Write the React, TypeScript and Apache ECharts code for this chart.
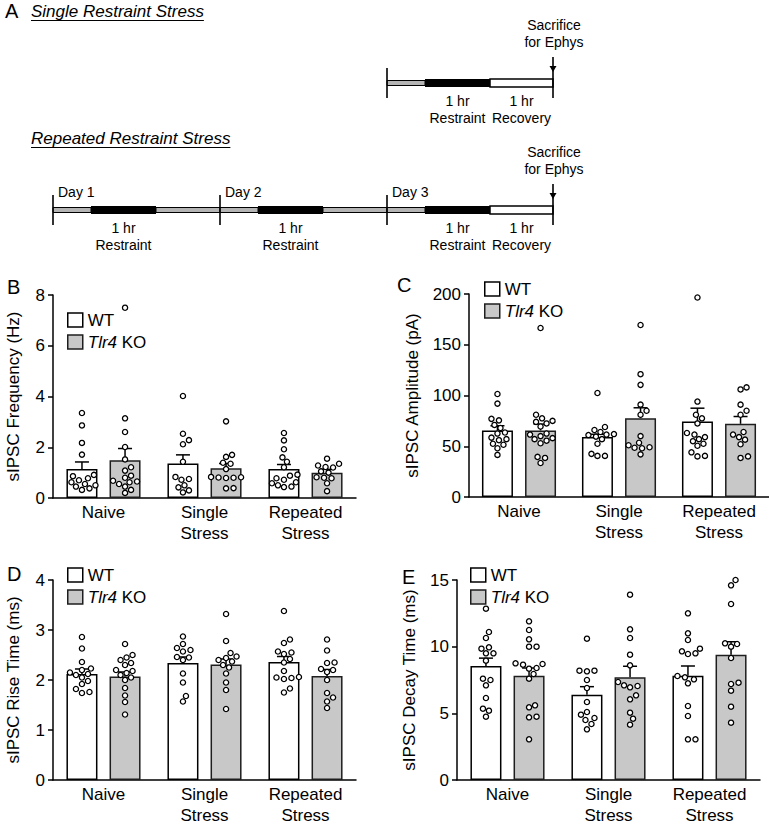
import React, { useEffect, useRef } from 'react';
import * as echarts from 'echarts';

const FONT = "'Liberation Sans', Arial, Helvetica, sans-serif";

const categories = ['Naive', 'Single\nStress', 'Repeated\nStress'];
const legendNames = ['WT', 'Tlr4 KO'];
const repeatedDays = ['Day 1', 'Day 2', 'Day 3'];

// Panel B: sIPSC frequency (Hz)
const freqMeanWT = [1.14, 1.36, 1.14];
const freqSemWT = [0.28, 0.34, 0.18];
const freqMeanKO = [1.49, 1.17, 1.0];
const freqSemKO = [0.46, 0.19, 0.13];
const freqWtNaive = [3.35, 2.86, 2.17, 1.71, 0.91, 0.86, 0.78, 0.7, 0.62, 0.55, 0.5, 0.45, 0.38, 0.32];
const freqWtSingle = [4.02, 2.53, 2.28, 2.12, 1.43, 0.83, 0.75, 0.72, 0.5, 0.42, 0.3, 0.22];
const freqWtRepeated = [2.56, 2.27, 1.92, 1.6, 1.43, 1.21, 0.92, 0.88, 0.78, 0.72, 0.62, 0.58, 0.5, 0.45, 0.43];
const freqKoNaive = [7.5, 3.14, 2.6, 2.01, 1.52, 1.21, 1.08, 0.88, 0.8, 0.68, 0.65, 0.62, 0.55, 0.45, 0.32, 0.2];
const freqKoSingle = [3.02, 1.7, 1.62, 1.39, 1.35, 1.14, 0.83, 0.82, 0.81, 0.8, 0.79, 0.39, 0.38];
const freqKoRepeated = [1.55, 1.35, 1.28, 1.22, 1.2, 1.05, 1.0, 0.82, 0.8, 0.78, 0.58, 0.27];

// Panel C: sIPSC amplitude (pA)
const ampMeanWT = [65.6, 59.0, 74.4];
const ampSemWT = [4.6, 2.8, 13.1];
const ampMeanKO = [65.6, 77.7, 72.1];
const ampSemKO = [6.2, 10.2, 7.2];
const ampWtNaive = [101.5, 92, 77, 75.5, 71, 68, 63.5, 62.5, 58.5, 57, 56, 52.5, 51.5, 48, 41.5];
const ampWtSingle = [102.5, 69, 66, 64, 62, 61.5, 61, 59.5, 57, 52.5, 42.5, 40.5, 40.5];
const ampWtRepeated = [196.5, 94, 81, 77.5, 72.5, 63, 61.5, 59, 57, 55, 52.5, 50.5, 44, 40.5, 40];
const ampKoNaive = [166.5, 81, 77.5, 75, 74, 72.5, 69.5, 62.5, 61.5, 60, 58, 57, 55.5, 53, 39.5, 38.5, 33.5];
const ampKoSingle = [169.5, 121, 110.5, 91, 85, 81, 60, 53.5, 51, 49, 48.5, 48, 42];
const ampKoRepeated = [108, 106, 91, 85, 81, 64, 61.5, 59, 56.5, 52, 40, 38.5];

// Panel D: sIPSC rise time (ms)
const riseMeanWT = [2.12, 2.34, 2.36];
const riseSemWT = [0.1, 0.12, 0.11];
const riseMeanKO = [2.07, 2.31, 2.08];
const riseSemKO = [0.09, 0.11, 0.13];
const riseWtNaive = [2.86, 2.63, 2.36, 2.23, 2.2, 2.15, 2.12, 2.1, 2.05, 1.98, 1.92, 1.82, 1.76, 1.74];
const riseWtSingle = [2.87, 2.72, 2.64, 2.6, 2.57, 2.46, 2.45, 2.4, 2.13, 1.95, 1.68, 1.57];
const riseWtRepeated = [3.38, 2.81, 2.74, 2.57, 2.55, 2.52, 2.42, 2.35, 2.18, 2.06, 2.05, 2.04, 2.02, 1.83, 1.75];
const riseKoNaive = [2.72, 2.5, 2.45, 2.4, 2.34, 2.3, 2.2, 2.18, 2.14, 2.1, 2.05, 2.0, 1.84, 1.69, 1.56, 1.31];
const riseKoSingle = [3.32, 2.78, 2.54, 2.47, 2.44, 2.4, 2.37, 2.3, 2.25, 2.13, 1.95, 1.8, 1.42];
const riseKoRepeated = [2.81, 2.59, 2.35, 2.34, 2.22, 2.2, 2.16, 2.0, 1.74, 1.65, 1.57, 1.44];

// Panel E: sIPSC decay time (ms)
const decayMeanWT = [8.55, 6.4, 7.82];
const decaySemWT = [0.59, 0.6, 0.73];
const decayMeanKO = [7.82, 7.7, 9.39];
const decaySemKO = [0.58, 0.83, 0.98];
const decayWtNaive = [12.85, 11.1, 10.65, 9.95, 9.85, 9.5, 9.5, 8.95, 7.6, 7.5, 7.1, 6.15, 5.35, 5.2, 4.75];
const decayWtSingle = [10.6, 8.2, 8.2, 8.15, 7.5, 6.9, 5.85, 5.1, 4.9, 4.65, 4.5, 4.2, 3.8];
const decayWtRepeated = [12.5, 11.0, 10.5, 9.85, 9.65, 9.5, 9.45, 7.8, 7.7, 7.55, 7.25, 5.55, 4.8, 3.05, 3.05];
const decayKoNaive = [11.9, 11.25, 10.55, 10.0, 10.0, 8.75, 8.7, 8.65, 8.4, 8.35, 7.95, 7.6, 5.6, 5.45, 4.75, 4.7, 3.05];
const decayKoSingle = [13.9, 11.3, 10.65, 9.4, 8.6, 7.35, 7.1, 7.05, 6.95, 6.35, 6.05, 5.05, 4.6, 4.15];
const decayKoRepeated = [15.0, 14.6, 13.2, 10.25, 10.2, 10.0, 9.15, 7.3, 7.2, 6.7, 5.5, 4.3];

// ---- styling / layout ----
const BAR_W = 31;
const BAR_GAP = 0.39;
const OFF = (BAR_W * (1 + BAR_GAP)) / 2;
const WT_STYLE = { color: '#ffffff', borderColor: '#000000', borderWidth: 1.5 };
const KO_STYLE = { color: '#c8c8c8', borderColor: '#1e1e1e', borderWidth: 1.5 };

const panels = [
  {
    letter: 'B', lx: 7, ly: 287,
    grid: { left: 53, top: 295, width: 303, height: 203 },
    max: 8, interval: 2, name: 'sIPSC Frequency (Hz)', nameGap: 31,
    legend: { left: 67, top: 310 },
    meanWT: freqMeanWT, semWT: freqSemWT, meanKO: freqMeanKO, semKO: freqSemKO,
    ptsWT: [freqWtNaive, freqWtSingle, freqWtRepeated],
    ptsKO: [freqKoNaive, freqKoSingle, freqKoRepeated],
  },
  {
    letter: 'C', lx: 397, ly: 285,
    grid: { left: 469, top: 294, width: 303, height: 203 },
    max: 200, interval: 50, name: 'sIPSC Amplitude (pA)', nameGap: 48,
    legend: { left: 484, top: 279 },
    meanWT: ampMeanWT, semWT: ampSemWT, meanKO: ampMeanKO, semKO: ampSemKO,
    ptsWT: [ampWtNaive, ampWtSingle, ampWtRepeated],
    ptsKO: [ampKoNaive, ampKoSingle, ampKoRepeated],
  },
  {
    letter: 'D', lx: 7, ly: 574,
    grid: { left: 53, top: 580, width: 303, height: 204 },
    max: 4, interval: 1, name: 'sIPSC Rise Time (ms)', nameGap: 31,
    legend: { left: 67, top: 565 },
    meanWT: riseMeanWT, semWT: riseSemWT, meanKO: riseMeanKO, semKO: riseSemKO,
    ptsWT: [riseWtNaive, riseWtSingle, riseWtRepeated],
    ptsKO: [riseKoNaive, riseKoSingle, riseKoRepeated],
  },
  {
    letter: 'E', lx: 402, ly: 577,
    grid: { left: 457, top: 580, width: 303, height: 204 },
    max: 15, interval: 5, name: 'sIPSC Decay Time (ms)', nameGap: 39,
    legend: { left: 470, top: 565 },
    meanWT: decayMeanWT, semWT: decaySemWT, meanKO: decayMeanKO, semKO: decaySemKO,
    ptsWT: [decayWtNaive, decayWtSingle, decayWtRepeated],
    ptsKO: [decayKoNaive, decayKoSingle, decayKoRepeated],
  },
];

function errRender(off: number) {
  return (params: any, api: any) => {
    const cat = api.value(0);
    const mean = api.value(1);
    const sem = api.value(2);
    const base = api.coord([cat, mean]);
    const top = api.coord([cat, mean + sem]);
    const x = base[0] + off;
    const st = { stroke: '#000', lineWidth: 1.5 };
    return {
      type: 'group',
      children: [
        { type: 'line', shape: { x1: x, y1: base[1], x2: x, y2: top[1] }, style: st },
        { type: 'line', shape: { x1: x - 7, y1: top[1], x2: x + 7, y2: top[1] }, style: st },
      ],
    };
  };
}

function dotsRender(pts: number[][], off: number) {
  return (params: any, api: any) => {
    const j = params.dataIndex;
    const cx = api.coord([j, 0])[0] + off;
    const ys = pts[j].map((v) => api.coord([j, v])[1]).sort((a: number, b: number) => b - a);
    const placed: { x: number; y: number }[] = [];
    const D = 6.2;
    const children: any[] = [];
    for (const y of ys) {
      let chosen = 0;
      for (let k = 0; k < 60; k++) {
        const o = (k % 2 === 1 ? 1 : -1) * Math.ceil(k / 2) * 1.5;
        const ok = placed.every((p) => (p.x - o) ** 2 + (p.y - y) ** 2 >= D * D);
        if (ok) {
          chosen = o;
          break;
        }
      }
      placed.push({ x: chosen, y });
      children.push({
        type: 'circle',
        shape: { cx: cx + chosen, cy: y, r: 2.6 },
        style: { fill: '#fff', stroke: '#000', lineWidth: 1.3 },
      });
    }
    return { type: 'group', children };
  };
}

function measure(text: string, font: string) {
  const c = document.createElement('canvas').getContext('2d');
  if (!c) return text.length * 9;
  c.font = font;
  return c.measureText(text).width;
}

// timeline layout
const TL_RIGHT = 553;
const DAY_W = 167;
const REST_OFF = 38;
const REST_W = 65;
const REC_W = 63;

function txt(x: number, y: number, text: string, size = 14, align = 'center', extra: any = {}) {
  return {
    type: 'text',
    x,
    y,
    silent: true,
    style: { text, fontSize: size, fontFamily: FONT, fill: '#000', align, verticalAlign: 'middle', ...extra },
  };
}

function timeline(yc: number, days: string[]) {
  const n = days.length;
  const lastStart = TL_RIGHT - REC_W - REST_W - REST_OFF;
  const starts = days.map((_, i) => lastStart - (n - 1 - i) * DAY_W);
  const bands: any[] = [];
  const bars: any[] = [];
  const ticks: any[] = [];
  const texts: any[] = [];
  const band = (x0: number, x1: number) => ({
    type: 'rect',
    shape: { x: x0, y: yc - 2.5, width: x1 - x0, height: 5 },
    style: { fill: '#b4b4b4', stroke: '#000', lineWidth: 1 },
  });
  const tick = (x: number) => ({
    type: 'line',
    shape: { x1: x, y1: yc - 15, x2: x, y2: yc + 15 },
    style: { stroke: '#000', lineWidth: 1.6 },
  });
  starts.forEach((s, i) => {
    const last = i === n - 1;
    const rx = s + REST_OFF;
    bands.push(band(s, rx));
    if (!last) bands.push(band(rx + REST_W, starts[i + 1]));
    bars.push({ type: 'rect', shape: { x: rx, y: yc - 4, width: REST_W, height: 8 }, style: { fill: '#000' } });
    if (last) {
      bars.push({
        type: 'rect',
        shape: { x: rx + REST_W, y: yc - 4, width: REC_W, height: 8 },
        style: { fill: '#fff', stroke: '#000', lineWidth: 1.5 },
      });
      texts.push(txt(rx + REST_W + REC_W / 2, yc + 18, '1 hr'));
      texts.push(txt(rx + REST_W + REC_W / 2, yc + 35, 'Recovery'));
    }
    ticks.push(tick(s));
    texts.push(txt(rx + REST_W / 2, yc + 18, '1 hr'));
    texts.push(txt(rx + REST_W / 2, yc + 35, 'Restraint'));
    if (days[i]) texts.push(txt(s + 5, yc - 18, days[i], 14, 'left'));
  });
  ticks.push(tick(TL_RIGHT));
  ticks.push({
    type: 'line',
    shape: { x1: TL_RIGHT, y1: yc - 26, x2: TL_RIGHT, y2: yc - 15 },
    style: { stroke: '#000', lineWidth: 1.6 },
  });
  ticks.push({
    type: 'polygon',
    shape: { points: [[TL_RIGHT - 3.5, yc - 17], [TL_RIGHT + 3.5, yc - 17], [TL_RIGHT, yc - 11]] },
    style: { fill: '#000' },
  });
  texts.push(txt(TL_RIGHT + 1, yc - 58, 'Sacrifice'));
  texts.push(txt(TL_RIGHT + 1, yc - 41, 'for Ephys'));
  return [...bands, ...bars, ...ticks, ...texts];
}

function buildOption() {
  const grid: any[] = [];
  const xAxis: any[] = [];
  const yAxis: any[] = [];
  const series: any[] = [];
  const legend: any[] = [];
  const graphic: any[] = [];

  panels.forEach((p, i) => {
    grid.push({ ...p.grid, containLabel: false });
    xAxis.push({
      gridIndex: i,
      type: 'category',
      data: categories,
      axisLine: { lineStyle: { color: '#000', width: 1.5 } },
      axisTick: { show: false },
      axisLabel: { fontSize: 17, lineHeight: 21, color: '#000', fontFamily: FONT, margin: 4, interval: 0 },
    });
    yAxis.push({
      gridIndex: i,
      type: 'value',
      min: 0,
      max: p.max,
      interval: p.interval,
      axisLine: { show: true, lineStyle: { color: '#000', width: 1.5 } },
      axisTick: { show: true, length: 5, lineStyle: { color: '#000', width: 1.5 } },
      splitLine: { show: false },
      axisLabel: { fontSize: 17, color: '#000', fontFamily: FONT, margin: 8 },
      name: p.name,
      nameLocation: 'middle',
      nameRotate: 90,
      nameGap: p.nameGap,
      nameTextStyle: { fontSize: 17, fontFamily: FONT, color: '#000' },
    });
    series.push({
      type: 'bar', name: 'WT', xAxisIndex: i, yAxisIndex: i, data: p.meanWT,
      barWidth: BAR_W, barGap: `${BAR_GAP * 100}%`, itemStyle: WT_STYLE, z: 2,
    });
    series.push({
      type: 'bar', name: 'Tlr4 KO', xAxisIndex: i, yAxisIndex: i, data: p.meanKO,
      barWidth: BAR_W, barGap: `${BAR_GAP * 100}%`, itemStyle: KO_STYLE, z: 2,
    });
    [
      { mean: p.meanWT, sem: p.semWT, pts: p.ptsWT, off: -OFF, tag: 'WT' },
      { mean: p.meanKO, sem: p.semKO, pts: p.ptsKO, off: OFF, tag: 'KO' },
    ].forEach((g) => {
      series.push({
        type: 'custom', name: `err${g.tag}`, xAxisIndex: i, yAxisIndex: i, z: 3, clip: false,
        encode: { x: 0, y: 1 },
        data: categories.map((_, j) => [j, g.mean[j], g.sem[j]]),
        renderItem: errRender(g.off),
      });
      series.push({
        type: 'custom', name: `dots${g.tag}`, xAxisIndex: i, yAxisIndex: i, z: 4, clip: false,
        encode: { x: 0, y: 1 },
        data: categories.map((_, j) => [j, Math.max(...g.pts[j])]),
        renderItem: dotsRender(g.pts, g.off),
      });
    });
    legend.push({
      ...p.legend,
      orient: 'vertical',
      padding: 0,
      itemWidth: 15,
      itemHeight: 14,
      itemGap: 2,
      selectedMode: false,
      icon: 'rect',
      data: [
        { name: legendNames[0], itemStyle: WT_STYLE },
        { name: legendNames[1], itemStyle: KO_STYLE },
      ],
      formatter: (name: string) => (name === 'Tlr4 KO' ? '{i|Tlr4} KO' : name),
      textStyle: {
        fontSize: 17, fontFamily: FONT, color: '#000', lineHeight: 20,
        rich: { i: { fontSize: 17, fontFamily: FONT, fontStyle: 'italic', color: '#000', lineHeight: 20 } },
      },
    });
    graphic.push(txt(p.lx, p.ly, p.letter, 20, 'left'));
  });

  // Panel A
  graphic.push(txt(5, 11, 'A', 20, 'left'));
  const titleFont = `italic 17px ${FONT}`;
  const t1 = 'Single Restraint Stress';
  const t2 = 'Repeated Restraint Stress';
  const tx = 31;
  graphic.push(txt(tx, 11, t1, 17, 'left', { fontStyle: 'italic' }));
  graphic.push({
    type: 'line',
    shape: { x1: tx, y1: 20.5, x2: tx + measure(t1, titleFont), y2: 20.5 },
    style: { stroke: '#000', lineWidth: 1.2 },
  });
  graphic.push(txt(tx, 138, t2, 17, 'left', { fontStyle: 'italic' }));
  graphic.push({
    type: 'line',
    shape: { x1: tx, y1: 147.5, x2: tx + measure(t2, titleFont), y2: 147.5 },
    style: { stroke: '#000', lineWidth: 1.2 },
  });
  graphic.push(...timeline(83, ['']));
  graphic.push(...timeline(210, repeatedDays));

  return {
    animation: false,
    backgroundColor: '#ffffff',
    textStyle: { fontFamily: FONT },
    grid,
    xAxis,
    yAxis,
    legend,
    series,
    graphic: { elements: graphic },
  };
}

export default function App() {
  const ref = useRef<HTMLDivElement>(null);
  useEffect(() => {
    if (!ref.current) return;
    const chart = echarts.init(ref.current, null, { renderer: 'svg' });
    chart.setOption(buildOption() as any);
    return () => chart.dispose();
  }, []);
  return (
    <div
      ref={ref}
      style={{ position: 'fixed', left: 0, top: 0, width: 769, height: 826, background: '#fff' }}
    />
  );
}
